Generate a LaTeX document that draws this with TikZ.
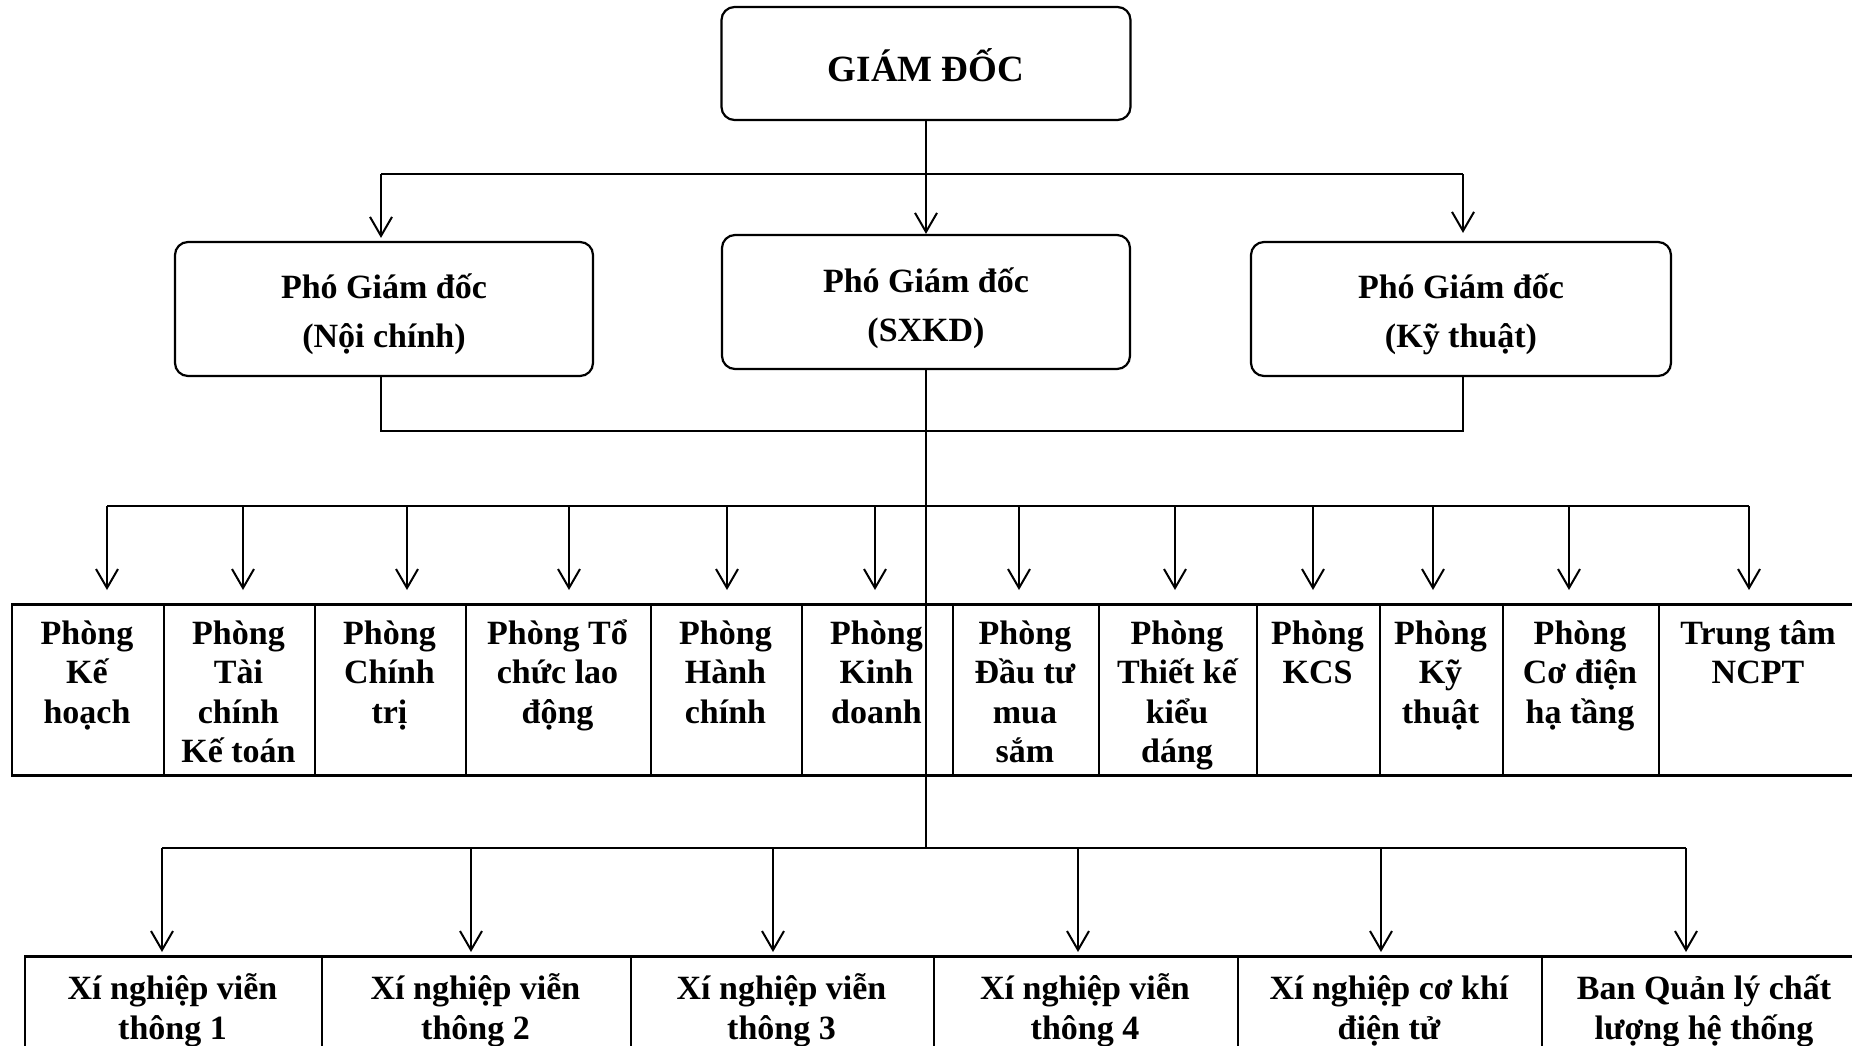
\documentclass[tikz,border=0pt]{standalone}
\usepackage{fontspec}
\setmainfont{Liberation Serif}
\usetikzlibrary{arrows.meta}
\begin{document}
\begin{tikzpicture}[x=1pt,y=-1pt,
  box/.style={draw, line width=2.2pt, rounded corners=13pt, inner sep=0pt},
  link/.style={line width=2pt},
  arr/.style={link, -{Straight Barb[length=19pt,width=22pt,line width=2pt]}},
  cell/.style={draw, line width=2pt, inner sep=0pt, anchor=north west},
  rule/.style={line width=2.8pt},
  lbl/.style={font=\fontsize{34}{39.5}\selectfont\bfseries, align=center, anchor=base, inner sep=0pt},
  head/.style={font=\fontsize{34}{49}\selectfont\bfseries, align=center, anchor=base, inner sep=0pt},
]
\useasboundingbox (0,0) rectangle (1852,1046);
\clip (0,0) rectangle (1852,1046);

% Director and deputy directors (base anchor = baseline of the last line)
\node[box, minimum width=409pt, minimum height=113pt] (gd) at (926,63.5) {};
\node[head, font=\fontsize{37}{45}\selectfont\bfseries] (gdt) at (926,82) {GIÁM ĐỐC};

\node[box, minimum width=418pt, minimum height=134pt] (pgd1) at (384,309) {};
\node[head] (pgd1t) at (384,347) {Phó Giám đốc\\(Nội chính)};
\node[box, minimum width=408pt, minimum height=134pt] (pgd2) at (926,302) {};
\node[head] (pgd2t) at (926,341) {Phó Giám đốc\\(SXKD)};
\node[box, minimum width=420pt, minimum height=134pt] (pgd3) at (1461,309) {};
\node[head] (pgd3t) at (1461,347) {Phó Giám đốc\\(Kỹ thuật)};

% Departments row: index / left / right / number of lines / text
\foreach \i/\xa/\xb/\n/\txt in {
  1/11/163/3/{Phòng\\Kế\\hoạch},
  2/163/314/4/{Phòng\\Tài\\chính\\Kế toán},
  3/314/465/3/{Phòng\\Chính\\trị},
  4/465/650/3/{Phòng Tổ\\chức lao\\động},
  5/650/801/3/{Phòng\\Hành\\chính},
  6/801/952/3/{Phòng\\Kinh\\doanh},
  7/952/1098/4/{Phòng\\Đầu tư\\mua\\sắm},
  8/1098/1256/4/{Phòng\\Thiết kế\\kiểu\\dáng},
  9/1256/1379/2/{Phòng\\KCS},
  10/1379/1502/3/{Phòng\\Kỹ\\thuật},
  11/1502/1658/3/{Phòng\\Cơ điện\\hạ tầng},
  12/1658/1858/2/{Trung tâm\\NCPT}} {
  \node[cell, minimum width={(\xb-\xa)*1pt}, minimum height=170pt] (dep\i) at (\xa,604) {};
  \node[lbl] (dept\i) at ({(\xa+\xb)/2},{644+(\n-1)*39.6}) {\txt};
}
\draw[rule] (dep1.north west) -- (dep12.north east);
\draw[rule] (dep1.south west) -- (dep12.south east);

% Enterprises row
\foreach \i/\xa/\xb/\txt in {
  1/24/321/{Xí nghiệp viễn\\thông 1},
  2/321/630/{Xí nghiệp viễn\\thông 2},
  3/630/933/{Xí nghiệp viễn\\thông 3},
  4/933/1237/{Xí nghiệp viễn\\thông 4},
  5/1237/1541/{Xí nghiệp cơ khí\\điện tử},
  6/1541/1867/{Ban Quản lý chất\\lượng hệ thống}} {
  \node[cell, minimum width={(\xb-\xa)*1pt}, minimum height=150pt] (ent\i) at (\xa,956) {};
  \node[lbl] (entt\i) at ({(\xa+\xb)/2},1039) {\txt};
}
\draw[rule] (ent1.north west) -- (ent6.north east);

% Director to deputies
\coordinate (busL) at (381,174);
\coordinate (busR) at (1463,174);
\draw[arr] (gd.south) -- (pgd2.north);
\draw[link] (busL) -- (busR);
\draw[arr, shorten >=3pt] (busL) -- (pgd1.north -| busL);
\draw[arr, shorten >=8pt] (busR) -- (pgd3.north -| busR);

% Deputies joined together
\coordinate (joinL) at (381,431);
\coordinate (joinR) at (1463,431);
\draw[link] (pgd1.south -| joinL) -- (joinL) -- (joinR) -- (pgd3.south -| joinR);

% Main trunk down to both rows
\coordinate (trunkA) at (926,506);
\coordinate (trunkB) at (926,848);
\draw[link] (pgd2.south) -- (trunkB);

% Bus to departments
\draw[link] (107,506) -- (1749,506);
\foreach \i/\x in {1/107,2/243,3/407,4/569,5/727,6/875,7/1019,8/1175,9/1313,10/1433,11/1569,12/1749} {
  \coordinate (da\i) at (\x,590);
  \draw[arr] (da\i |- trunkA) -- (da\i);
}

% Bus to enterprises
\draw[link] (162,848) -- (1686,848);
\foreach \i/\x in {1/162,2/471,3/773,4/1078,5/1381,6/1686} {
  \coordinate (ea\i) at (\x,952);
  \draw[arr] (ea\i |- trunkB) -- (ea\i);
}
\end{tikzpicture}
\end{document}
